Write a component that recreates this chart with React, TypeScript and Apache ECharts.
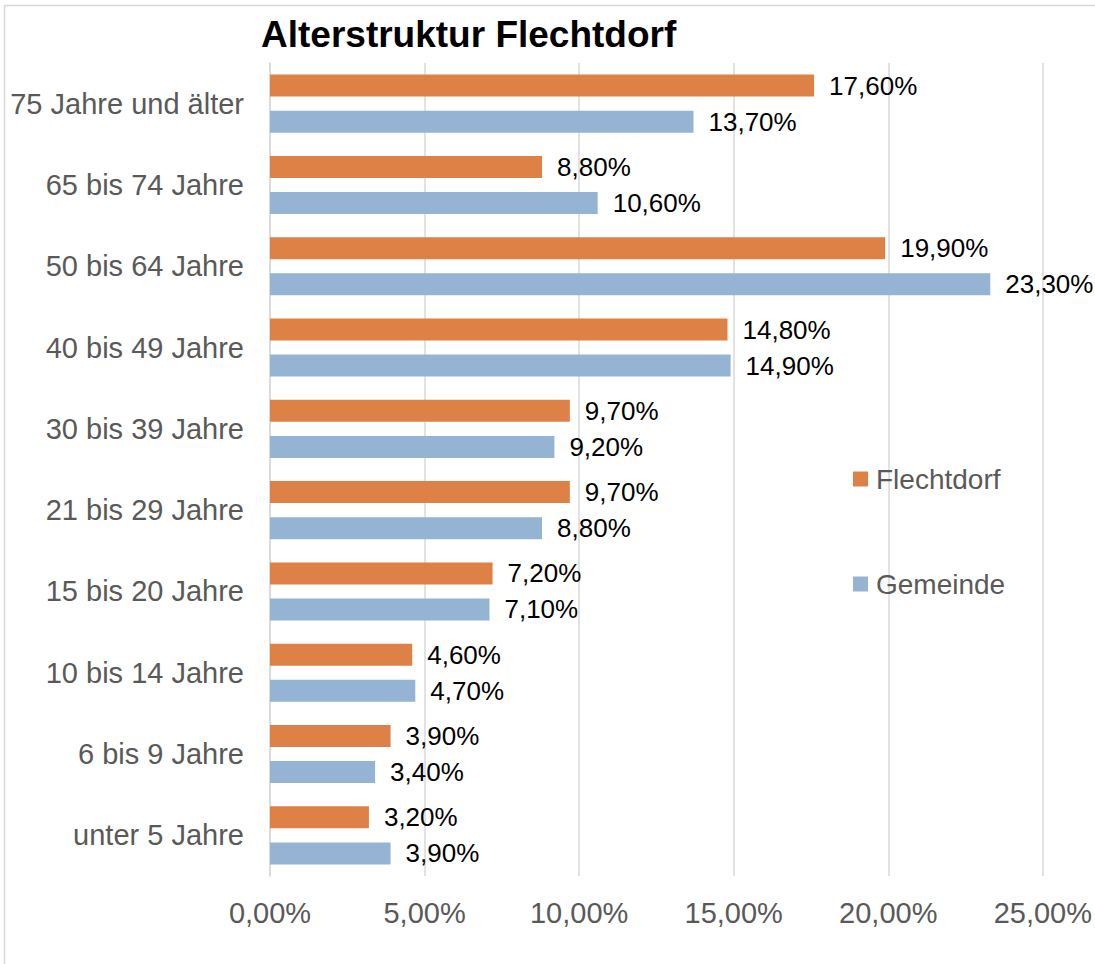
import React, { useEffect, useRef } from "react";
import * as echarts from "echarts";

const categories = [
  "75 Jahre und älter",
  "65 bis 74 Jahre",
  "50 bis 64 Jahre",
  "40 bis 49 Jahre",
  "30 bis 39 Jahre",
  "21 bis 29 Jahre",
  "15 bis 20 Jahre",
  "10 bis 14 Jahre",
  "6 bis 9 Jahre",
  "unter 5 Jahre",
];
const flechtdorf = [17.6, 8.8, 19.9, 14.8, 9.7, 9.7, 7.2, 4.6, 3.9, 3.2];
const gemeinde = [13.7, 10.6, 23.3, 14.9, 9.2, 8.8, 7.1, 4.7, 3.4, 3.9];
const seriesNames = ["Flechtdorf", "Gemeinde"];
const titleText = "Alterstruktur Flechtdorf";

const FONT = "'Liberation Sans', Arial, sans-serif";
const fmt = (v: number) => v.toFixed(2).replace(".", ",") + "%";

export default function App() {
  const ref = useRef<HTMLDivElement>(null);
  useEffect(() => {
    if (!ref.current) return;
    const chart = echarts.init(ref.current, undefined, { renderer: "svg" });
    const labelCfg = {
      show: true,
      position: "right" as const,
      distance: 15,
      color: "#000000",
      fontSize: 26,
      fontFamily: FONT,
      formatter: (p: any) => fmt(p.value),
    };
    chart.setOption({
      animation: false,
      backgroundColor: "#ffffff",
      title: {
        text: titleText,
        left: 261,
        top: 16,
        padding: 0,
        textStyle: { fontSize: 37, fontWeight: "bold", color: "#000000", fontFamily: FONT },
      },
      graphic: [
        {
          type: "rect",
          shape: { x: 4.5, y: 5.5, width: 2000, height: 2000 },
          style: { fill: "none", stroke: "#d9d9d9", lineWidth: 1.5 },
          silent: true,
          z: -1,
        },
      ],
      legend: {
        orient: "vertical",
        left: 853,
        top: 464,
        padding: 0,
        itemWidth: 15,
        itemHeight: 15,
        itemGap: 75,
        icon: "rect",
        data: seriesNames,
        textStyle: { fontSize: 28, color: "#595959", fontFamily: FONT, lineHeight: 30, padding: [0, 0, 0, 3] },
      },
      grid: { left: 270, right: 51, top: 63, bottom: 88, containLabel: false },
      xAxis: {
        type: "value",
        min: 0,
        max: 25,
        interval: 5,
        axisLine: { show: false },
        axisTick: { show: false },
        splitLine: { show: true, lineStyle: { color: "#d9d9d9", width: 1.5 } },
        axisLabel: {
          formatter: (v: number) => fmt(v),
          fontSize: 29,
          color: "#595959",
          fontFamily: FONT,
          margin: 22,
        },
      },
      yAxis: {
        type: "category",
        data: categories,
        inverse: true,
        axisLine: { show: true, lineStyle: { color: "#d9d9d9", width: 1.5 } },
        axisTick: { show: false },
        axisLabel: { fontSize: 29, color: "#595959", fontFamily: FONT, margin: 26 },
      },
      series: [
        {
          name: seriesNames[0],
          type: "bar",
          data: flechtdorf,
          barWidth: 22,
          barGap: "64%",
          itemStyle: { color: "#de8147" },
          label: labelCfg,
        },
        {
          name: seriesNames[1],
          type: "bar",
          data: gemeinde,
          barWidth: 22,
          barGap: "64%",
          itemStyle: { color: "#95b4d3" },
          label: labelCfg,
        },
      ],
    });
    return () => chart.dispose();
  }, []);
  return (
    <div
      ref={ref}
      style={{ position: "absolute", left: 0, top: 0, width: 1095, height: 964 }}
    />
  );
}
